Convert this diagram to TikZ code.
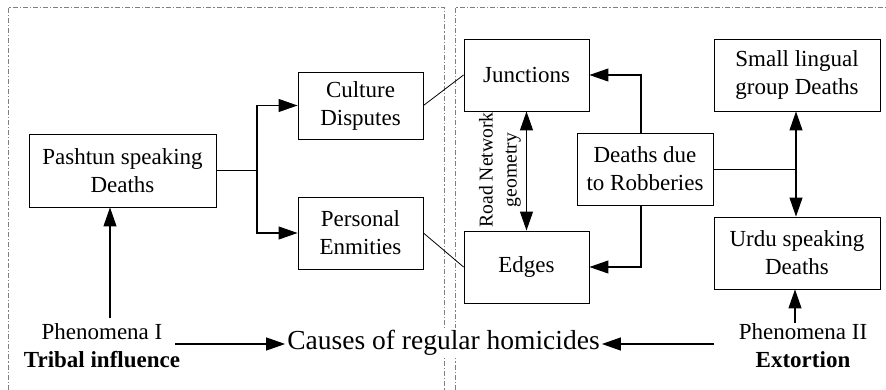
\documentclass[tikz,border=0pt]{standalone}
\usepackage{fontspec}
\setmainfont{Liberation Serif}
\usetikzlibrary{arrows.meta}
\begin{document}
\begin{tikzpicture}[x=1pt,y=-1pt,
  box/.style={draw,line width=0.9pt,align=center,inner sep=0pt,font=\fontsize{23}{28}\selectfont},
  arr/.style={line width=1.1pt,-{Triangle[length=19pt,width=13pt]}},
  darr/.style={line width=1.1pt,{Triangle[length=19pt,width=13pt]}-{Triangle[length=19pt,width=13pt]}},
  thin/.style={line width=0.8pt},
  frame/.style={draw=gray,line width=0.9pt,dash pattern=on 5pt off 2pt on 1.2pt off 2pt},
  lbl/.style={align=center,inner sep=0pt,font=\fontsize{23}{28}\selectfont}]
\useasboundingbox (0,0) rectangle (886,390);
\draw[frame] (8,390) -- (8,7) -- (444,7) -- (444,390);
\draw[frame] (455,390) -- (455,7) -- (886,7);

\node[box,minimum width=187pt,minimum height=73pt] (pash) at (122.5,170.5) {Pashtun speaking\\Deaths};
\node[box,minimum width=125pt,minimum height=67pt] (cult) at (360.5,105.5) {Culture\\Disputes};
\node[box,minimum width=125pt,minimum height=72pt] (pers) at (360.5,233) {Personal\\Enmities};
\node[box,minimum width=125pt,minimum height=72pt] (junc) at (526.5,75) {Junctions};
\node[box,minimum width=166pt,minimum height=72pt] (small) at (797,75) {Small lingual\\group Deaths};
\node[box,minimum width=136pt,minimum height=72pt] (rob) at (645,169) {Deaths due\\to Robberies};
\node[box,minimum width=125pt,minimum height=72pt] (edges) at (526.5,267) {Edges};
\node[box,minimum width=166pt,minimum height=72pt] (urdu) at (797,253) {Urdu speaking\\Deaths};

\node[lbl] (ph1) at (102,346) {Phenomena I\\\textbf{Tribal influence}};
\node[lbl] (ph2) at (803,346) {Phenomena II\\\textbf{Extortion}};
\node[fill=white,inner sep=2pt,font=\fontsize{27.5}{33}\selectfont] (causes) at (443.5,343) {Causes of regular homicides};
\node[rotate=90,align=center,inner sep=0pt,font=\fontsize{19.6}{24}\selectfont] (road) at (500,170) {Road Network\\geometry};

\coordinate (bp) at (257,170.5);
\draw[thin] (pash.east) -- (bp);
\draw[arr] (bp) |- (cult.west);
\draw[arr] (bp) |- (pers.west);
\draw[thin] (cult.east) -- (junc.west);
\draw[thin] (pers.east) -- (edges.west);
\draw[darr] (junc.south) -- (edges.north);
\draw[arr] ([xshift=-4pt]rob.north) |- (junc.east);
\draw[arr] ([xshift=-4pt]rob.south) |- (edges.east);
\coordinate (rb) at (796,169);
\draw[thin] (rob.east) -- (rb);
\draw[arr] (rb) -- (small.south -| rb);
\draw[arr] (rb) -- (urdu.north -| rb);
\coordinate (p1top) at (110,318);
\draw[arr] (p1top) -- (pash.south -| p1top);
\coordinate (p2top) at (795,323);
\draw[arr] (p2top) -- (urdu.south -| p2top);
\coordinate (p1r) at (175,344);
\coordinate (p2l) at (714,344);
\draw[arr] (p1r) -- (causes.west |- p1r);
\draw[arr] (p2l) -- (causes.east |- p2l);
\end{tikzpicture}
\end{document}
